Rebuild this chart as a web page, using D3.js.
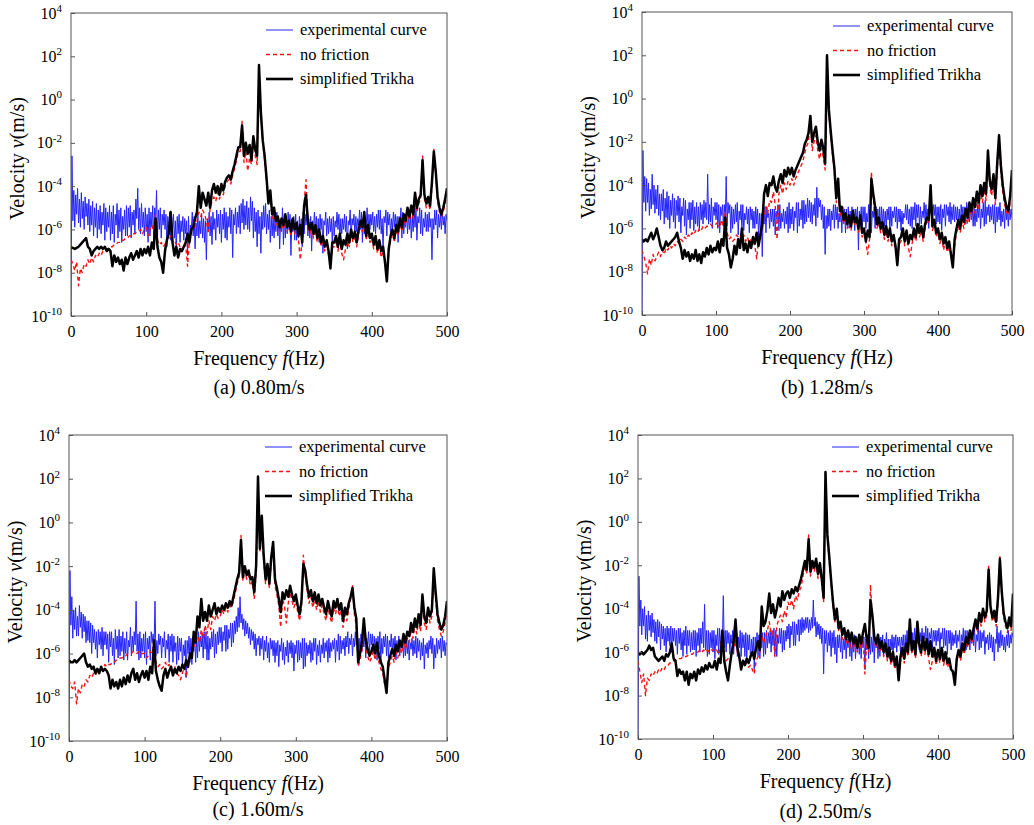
<!DOCTYPE html>
<html><head><meta charset="utf-8">
<script src="https://cdn.jsdelivr.net/npm/d3@7"></script>
<style>
body{margin:0;background:#fff}
svg{display:block}
text{font-family:'Liberation Serif','Times New Roman',serif;fill:#000}
</style>
</head><body>
<svg id="chart" width="1034" height="825"></svg>
<script>
// ---------- DATA (velocity values stored as log10 exponents) ----------
// experimental curves sampled every 1.25 Hz, model curves every 2.5 Hz, 0..500 Hz
const expStep = 1.25;
const modelStep = 2.5;
const expFrequencies = d3.range(0, 500 + expStep / 2, expStep);
const modelFrequencies = d3.range(0, 500 + modelStep / 2, modelStep);
const yTickExponents = [-10, -8, -6, -4, -2, 0, 2, 4];
const xTickValues = [0, 100, 200, 300, 400, 500];
const seriesNames = ["experimental curve", "no friction", "simplified Trikha"];
const captions = ["(a) 0.80m/s", "(b) 1.28m/s", "(c) 1.60m/s", "(d) 2.50m/s"];

// (a) 0.80 m/s
const expA = [
-10.0,-2.6,-5.6,-4.2,-5.9,-4.4,-5.3,-4.1,-5.7,-4.6,-5.9,-4.3,-5.5,-4.7,-6.0,-4.5,-5.4,-4.8,-5.8,-4.6,
-6.1,-4.9,-5.8,-4.7,-6.3,-5.0,-5.9,-4.8,-6.4,-5.1,-6.0,-4.9,-6.2,-5.2,-5.8,-4.8,-6.5,-5.0,-6.1,-5.2,
-5.9,-4.9,-6.5,-5.2,-6.2,-4.9,-6.6,-5.3,-5.8,-4.8,-6.4,-5.1,-6.1,-5.0,-6.6,-5.4,-6.0,-5.1,-6.3,-4.9,
-6.3,-5.0,-5.9,-4.9,-6.4,-5.2,-5.8,-5.1,-6.2,-4.6,-5.5,-4.1,-6.0,-5.0,-6.2,-4.8,-5.9,-5.2,-6.3,-5.0,
-6.1,-5.3,-6.6,-5.0,-6.3,-5.2,-5.9,-4.9,-6.5,-5.0,-5.6,-4.2,-6.4,-5.1,-6.0,-5.0,-6.4,-5.3,-5.8,-5.1,
-6.0,-5.3,-6.8,-5.4,-6.2,-5.2,-6.5,-5.5,-6.0,-5.3,-6.4,-5.6,-7.0,-5.4,-6.2,-5.3,-6.6,-5.6,-6.1,-5.4,
-6.5,-5.5,-6.2,-5.6,-7.2,-5.4,-6.7,-5.8,-6.0,-5.2,-6.3,-5.4,-6.9,-5.7,-6.3,-5.3,-6.4,-5.6,-6.2,-5.3,
-6.4,-5.5,-6.6,-5.6,-7.4,-5.5,-6.1,-5.2,-6.3,-5.4,-6.7,-5.2,-6.0,-5.5,-6.5,-5.1,-5.9,-5.3,-6.2,-5.1,
-6.6,-5.3,-6.0,-5.0,-6.4,-5.2,-6.5,-5.4,-5.9,-5.0,-6.2,-5.1,-7.3,-5.3,-5.8,-5.0,-6.2,-5.2,-5.9,-4.9,
-6.2,-4.8,-5.7,-4.6,-6.0,-4.9,-5.8,-4.7,-6.0,-5.0,-6.1,-4.5,-5.6,-4.7,-6.4,-5.0,-6.1,-5.2,-6.8,-5.1,
-6.2,-5.4,-7.1,-5.2,-6.0,-4.9,-5.9,-4.8,-6.2,-5.3,-6.0,-5.1,-6.6,-5.4,-6.3,-5.3,-6.4,-5.5,-6.1,-5.2,
-6.3,-5.5,-6.9,-5.6,-6.1,-5.0,-6.7,-5.3,-6.4,-5.4,-6.2,-5.2,-6.0,-5.3,-7.2,-5.5,-6.1,-5.4,-6.5,-5.3,
-6.5,-5.6,-6.4,-5.4,-6.1,-5.5,-6.8,-5.2,-6.2,-5.3,-5.8,-5.2,-6.3,-5.5,-6.4,-5.4,-7.0,-5.6,-5.9,-5.2,
-6.1,-5.4,-6.3,-5.5,-6.6,-5.3,-6.0,-5.5,-7.1,-5.6,-5.8,-5.2,-6.3,-5.5,-6.2,-5.4,-6.1,-5.5,-6.7,-5.4,
-6.3,-5.6,-5.9,-5.2,-6.0,-5.3,-6.5,-5.5,-6.2,-5.5,-6.0,-5.3,-6.1,-5.4,-6.9,-5.6,-5.8,-5.1,-6.4,-5.5,
-5.8,-5.3,-6.3,-5.4,-6.1,-5.5,-5.8,-5.1,-6.0,-5.2,-6.6,-5.5,-6.2,-5.6,-5.9,-5.0,-6.1,-5.3,-6.0,-5.3,
-5.8,-5.2,-6.1,-5.4,-6.2,-5.3,-5.9,-5.1,-6.0,-5.1,-6.2,-5.5,-6.9,-5.4,-5.7,-5.1,-6.3,-5.2,-5.8,-5.3,
-6.3,-5.5,-6.0,-5.2,-5.9,-5.3,-6.1,-5.4,-6.6,-5.4,-5.8,-5.0,-6.4,-5.2,-6.2,-5.6,-5.9,-5.1,-6.2,-5.3,
-6.0,-5.3,-6.4,-5.4,-6.1,-5.0,-5.9,-5.0,-6.5,-5.4,-5.7,-5.0,-6.2,-5.1,-6.3,-5.5,-5.9,-5.2,-6.1,-5.3,
-6.1,-5.2,-5.9,-5.5,-7.4,-5.5,-6.0,-5.1,-5.8,-5.1,-6.4,-5.3,-5.9,-5.3,-6.0,-5.2,-5.8,-5.4,-6.2,-5.3,
-5.6];
const noFrictionA = [
-7.4,-7.6,-7.9,-7.5,-8.6,-7.8,-8.0,-7.6,-7.7,-7.4,
-7.6,-7.3,-7.5,-7.2,-7.3,-7.1,-7.2,-7.0,-7.0,-6.9,
-6.9,-6.8,-6.8,-6.7,-6.7,-6.6,-6.6,-6.5,-6.5,-6.4,
-6.4,-6.3,-6.3,-6.2,-6.2,-6.1,-6.1,-6.0,-6.2,-6.0,
-5.9,-6.3,-6.0,-5.8,-6.1,-5.3,-6.5,-6.7,-6.6,-6.8,
-6.7,-6.4,-6.5,-6.3,-6.6,-6.5,-6.7,-6.6,-6.8,-7.0,
-6.8,-6.7,-7.7,-6.5,-6.1,-6.0,-5.8,-5.6,-5.2,-5.4,
-5.1,-5.3,-5.6,-6.1,-5.0,-4.7,-4.5,-4.7,-4.3,-4.6,
-4.2,-4.4,-4.0,-3.8,-3.7,-3.9,-3.5,-3.2,-2.8,-2.4,
-2.4,-1.0,-2.9,-2.4,-3.3,-2.7,-3.0,-1.9,-2.6,-3.0,
1.5,-0.7,-2.0,-2.8,-3.8,-4.6,-4.4,-5.5,-5.2,-5.8,
-5.6,-6.1,-5.7,-6.0,-5.5,-6.1,-5.8,-6.3,-5.7,-6.2,
-5.9,-6.5,-7.4,-6.4,-4.8,-3.7,-5.7,-6.2,-5.9,-6.4,
-6.0,-6.6,-6.2,-6.8,-6.5,-7.0,-6.6,-7.2,-7.6,-6.8,
-6.8,-6.5,-7.0,-6.4,-7.1,-7.4,-6.9,-6.4,-6.8,-6.2,
-6.6,-6.3,-6.8,-6.2,-5.8,-6.1,-5.4,-6.5,-6.0,-6.6,
-6.4,-6.9,-6.5,-7.1,-6.7,-7.3,-7.0,-7.4,-8.0,-7.1,
-6.5,-6.2,-6.6,-6.0,-6.3,-5.7,-6.1,-5.5,-5.8,-5.2,
-5.6,-5.1,-5.5,-4.5,-5.2,-4.8,-4.6,-2.6,-4.6,-5.0,
-4.7,-5.1,-4.0,-2.3,-3.4,-4.7,-5.2,-5.4,-5.2,-4.8,-4.3];
const trikhaA = [
-6.85,-6.85,-6.9,-6.85,-6.8,-6.7,-6.6,-6.5,-6.4,-6.8,
-6.9,-7.2,-7.0,-6.9,-6.8,-6.9,-6.8,-6.9,-6.8,-7.0,
-6.9,-7.0,-7.7,-7.2,-7.5,-7.3,-7.6,-7.4,-7.9,-7.3,
-7.6,-7.3,-7.1,-7.4,-7.2,-7.0,-7.3,-6.9,-7.2,-6.9,
-7.1,-6.8,-7.2,-6.6,-6.9,-5.5,-6.8,-7.3,-7.5,-8.0,
-7.0,-6.5,-6.2,-5.2,-6.6,-7.2,-6.8,-7.3,-6.9,-7.0,
-6.8,-6.6,-6.2,-6.6,-6.0,-5.9,-5.5,-5.2,-4.0,-5.0,
-4.3,-4.6,-4.9,-4.3,-5.0,-4.2,-3.9,-4.3,-4.0,-4.4,
-3.9,-4.2,-3.8,-3.6,-3.5,-3.7,-3.3,-3.0,-2.6,-2.2,
-2.2,-1.2,-2.6,-2.0,-2.5,-2.1,-2.8,-1.7,-2.3,-2.6,
1.6,-0.6,-1.9,-2.6,-3.6,-4.8,-4.2,-5.3,-5.0,-5.6,
-5.4,-5.9,-5.5,-5.8,-5.3,-5.9,-5.6,-6.1,-5.5,-6.0,
-5.7,-6.3,-5.8,-6.6,-4.9,-4.4,-5.6,-6.0,-5.7,-6.2,
-5.8,-6.4,-6.0,-6.6,-6.3,-6.8,-6.5,-7.0,-7.8,-6.6,
-6.6,-6.3,-6.8,-6.2,-6.9,-6.5,-6.7,-6.2,-6.6,-6.0,
-6.4,-6.1,-6.6,-6.0,-5.6,-5.9,-5.2,-6.3,-5.8,-6.4,
-6.2,-6.7,-6.3,-6.9,-6.5,-7.0,-6.8,-7.5,-8.4,-6.9,
-6.3,-6.0,-6.4,-5.8,-6.1,-5.5,-5.9,-5.3,-5.6,-5.0,
-5.4,-4.9,-5.3,-4.3,-5.0,-4.6,-4.4,-2.8,-4.4,-4.8,
-4.5,-4.9,-3.8,-2.4,-3.3,-4.5,-5.0,-5.3,-5.0,-4.6,-4.1];

// (b) 1.28 m/s
const expB = [
-10.0,-2.4,-4.8,-3.6,-5.2,-3.7,-4.8,-3.9,-5.4,-4.2,-5.1,-3.5,-4.9,-4.0,-5.3,-4.2,-5.1,-4.0,-5.4,-4.4,
-5.6,-4.4,-5.2,-4.2,-5.8,-4.6,-5.5,-4.3,-5.6,-4.5,-6.0,-4.7,-5.4,-4.4,-5.7,-4.6,-6.0,-4.7,-5.4,-4.5,
-5.7,-4.6,-6.2,-5.0,-5.4,-4.6,-5.9,-4.7,-6.3,-5.1,-5.6,-4.8,-6.0,-4.8,-5.6,-4.7,-6.1,-5.0,-5.8,-4.8,
-5.9,-5.0,-6.1,-4.8,-5.6,-4.9,-5.8,-4.7,-5.5,-4.8,-5.6,-3.5,-5.8,-4.9,-5.7,-4.6,-6.0,-5.0,-5.4,-4.8,
-5.6,-4.8,-6.0,-4.9,-6.2,-5.0,-5.4,-4.9,-5.9,-4.9,-5.7,-3.6,-5.9,-4.8,-5.3,-4.9,-6.2,-5.0,-6.0,-5.1,
-5.8,-4.9,-5.7,-4.8,-6.3,-5.2,-5.6,-4.9,-6.1,-4.9,-6.1,-5.3,-5.6,-5.0,-5.8,-5.1,-6.2,-5.0,-5.6,-5.1,
-6.0,-5.2,-6.0,-5.0,-5.8,-5.1,-6.4,-5.3,-6.2,-5.3,-7.3,-5.2,-5.8,-5.0,-6.2,-5.0,-5.5,-5.3,-6.0,-5.1,
-5.7,-5.1,-5.9,-5.1,-6.3,-5.2,-5.6,-4.9,-6.1,-4.9,-6.0,-5.3,-5.7,-5.1,-6.0,-5.2,-5.8,-5.0,-6.2,-4.8,
-6.0,-5.1,-5.8,-5.0,-6.1,-5.2,-5.5,-4.8,-6.2,-4.8,-5.9,-5.1,-5.6,-4.7,-6.0,-4.7,-5.8,-4.9,-5.7,-4.6,
-5.5,-4.7,-5.7,-4.8,-5.8,-4.9,-5.4,-4.6,-5.9,-4.1,-5.5,-4.6,-5.0,-4.7,-5.6,-4.9,-6.0,-5.0,-7.2,-5.4,
-6.0,-5.1,-5.9,-5.1,-6.1,-5.2,-5.6,-4.9,-6.0,-4.9,-5.6,-5.0,-6.0,-5.3,-5.7,-5.0,-6.2,-5.0,-5.8,-5.1,
-6.2,-5.1,-5.9,-5.0,-6.0,-5.2,-5.8,-5.0,-5.6,-5.1,-6.1,-5.1,-5.6,-5.0,-7.0,-5.2,-5.7,-5.0,-6.0,-5.0,
-5.7,-5.0,-6.0,-5.3,-5.7,-4.9,-6.1,-5.1,-6.2,-5.2,-5.5,-5.0,-6.0,-5.0,-5.6,-5.1,-5.9,-5.0,-6.1,-5.0,
-5.8,-5.1,-5.9,-5.2,-6.0,-5.1,-5.6,-5.0,-6.1,-5.0,-5.9,-5.2,-5.5,-5.0,-5.7,-5.0,-6.0,-5.1,-5.7,-5.1,
-6.1,-5.2,-5.8,-5.3,-5.5,-4.9,-5.6,-4.9,-5.8,-5.1,-5.9,-5.0,-6.0,-5.0,-5.6,-4.8,-5.9,-4.9,-5.5,-4.9,
-5.9,-5.0,-5.8,-5.2,-5.5,-4.8,-5.6,-4.9,-5.7,-5.1,-6.0,-5.0,-5.3,-4.9,-5.9,-4.9,-5.4,-4.9,-5.8,-5.0,
-5.7,-5.0,-5.8,-4.9,-6.1,-5.1,-5.5,-4.9,-5.9,-4.9,-5.4,-5.0,-5.7,-4.8,-5.8,-5.0,-5.6,-4.9,-5.7,-5.0,
-5.6,-5.0,-5.8,-5.1,-6.0,-4.9,-5.4,-5.0,-5.7,-5.0,-5.8,-4.8,-5.3,-5.0,-5.7,-5.1,-5.6,-4.9,-5.9,-5.0,
-5.9,-5.1,-5.7,-4.9,-5.5,-4.8,-6.0,-5.1,-5.5,-4.8,-5.9,-4.7,-5.8,-5.0,-5.4,-4.9,-5.7,-5.0,-5.6,-4.9,
-5.8,-4.9,-6.2,-5.0,-5.7,-5.0,-5.6,-4.8,-5.9,-5.2,-5.7,-5.1,-6.0,-5.0,-5.6,-5.1,-5.9,-5.0,-5.6,-5.1,
-5.5];
const noFrictionB = [
-7.0,-7.3,-7.6,-8.1,-7.4,-7.7,-7.2,-7.5,-7.3,-7.1,
-7.3,-7.0,-7.2,-6.9,-7.0,-6.8,-6.9,-6.7,-6.8,-6.6,
-6.7,-6.5,-6.6,-6.4,-6.5,-6.3,-6.4,-6.2,-6.3,-6.1,
-6.2,-6.0,-6.1,-5.9,-6.0,-5.9,-5.9,-5.8,-5.9,-5.8,
-5.8,-5.7,-6.0,-5.6,-5.9,-5.2,-6.2,-6.5,-6.4,-6.6,
-6.5,-6.3,-6.4,-6.6,-6.5,-6.3,-6.6,-6.4,-6.7,-6.5,
-6.6,-6.8,-7.4,-6.5,-6.2,-6.0,-5.4,-5.0,-5.3,-4.7,
-4.8,-4.3,-4.9,-6.5,-4.4,-4.0,-4.4,-3.9,-4.2,-3.8,
-4.0,-3.7,-4.0,-3.7,-3.5,-3.3,-3.1,-2.9,-2.5,-2.2,
-2.0,-0.7,-2.4,-2.0,-1.7,-2.4,-2.8,-2.3,-2.7,-3.3,
1.9,-0.7,-1.7,-2.6,-3.4,-4.8,-4.0,-5.4,-5.2,-5.8,
-5.5,-6.0,-5.6,-6.1,-5.4,-5.9,-5.7,-6.2,-5.6,-6.4,
-6.2,-6.6,-7.2,-6.5,-3.4,-4.6,-5.2,-6.0,-5.7,-6.2,
-5.9,-6.5,-6.1,-6.6,-6.2,-6.8,-6.5,-7.0,-7.5,-6.7,
-6.6,-6.2,-6.8,-6.3,-6.9,-7.3,-6.7,-6.2,-6.6,-6.0,
-6.4,-6.1,-6.6,-6.0,-5.7,-5.8,-4.3,-6.1,-5.8,-6.4,
-6.2,-6.7,-6.4,-7.0,-6.6,-7.1,-6.9,-7.1,-7.6,-6.8,
-6.2,-5.9,-6.2,-5.7,-6.0,-5.4,-5.8,-5.1,-5.5,-4.9,
-5.3,-4.6,-5.1,-4.3,-4.8,-4.2,-4.7,-2.6,-4.1,-4.5,
-3.8,-4.9,-3.3,-1.9,-3.4,-4.3,-4.9,-5.2,-5.4,-4.8,-3.6];
const trikhaB = [
-6.5,-6.6,-6.5,-6.6,-6.4,-6.2,-6.5,-6.3,-6.0,-6.4,
-6.8,-7.0,-6.9,-6.6,-6.8,-6.7,-6.6,-6.5,-6.4,-6.2,
-6.6,-6.9,-7.4,-7.0,-7.3,-7.1,-7.5,-7.2,-7.4,-7.0,
-7.5,-7.2,-7.6,-7.1,-7.3,-6.9,-7.2,-6.8,-7.1,-6.9,
-7.0,-6.6,-7.1,-6.5,-6.8,-5.5,-6.9,-7.2,-7.8,-7.4,
-6.8,-7.2,-6.5,-6.9,-6.0,-7.0,-6.7,-7.1,-6.6,-6.9,
-6.4,-6.7,-6.2,-6.8,-6.3,-5.8,-4.4,-4.0,-4.5,-3.9,
-4.0,-3.6,-4.1,-4.3,-3.8,-3.5,-3.9,-3.3,-3.6,-3.2,
-3.5,-3.2,-3.6,-3.3,-3.1,-2.9,-2.7,-2.5,-2.1,-1.9,
-1.6,-0.8,-2.0,-1.6,-1.3,-2.0,-2.4,-1.9,-2.3,-3.0,
2.0,-0.5,-1.5,-2.4,-3.2,-4.6,-3.7,-5.2,-5.0,-5.6,
-5.3,-5.8,-5.4,-5.9,-5.2,-5.7,-5.5,-6.0,-5.4,-6.2,
-6.0,-6.6,-6.1,-6.4,-3.7,-4.4,-5.0,-5.8,-5.5,-6.0,
-5.7,-6.3,-5.9,-6.4,-6.0,-6.6,-6.3,-6.8,-7.7,-6.5,
-6.4,-6.0,-6.6,-6.1,-6.7,-6.3,-6.5,-6.0,-6.4,-5.8,
-6.2,-5.9,-6.4,-5.8,-5.5,-5.6,-4.0,-5.9,-5.6,-6.2,
-6.0,-6.5,-6.2,-6.7,-6.4,-6.9,-6.6,-7.2,-7.8,-6.5,
-6.0,-5.6,-6.0,-5.4,-5.7,-5.1,-5.5,-4.8,-5.2,-4.6,
-5.0,-4.3,-4.8,-4.0,-4.5,-3.9,-4.4,-2.4,-3.8,-4.2,
-3.5,-4.6,-3.0,-1.7,-3.1,-4.0,-4.6,-5.0,-5.2,-4.5,-3.3];

// (c) 1.60 m/s
const expC = [
-10.0,-2.2,-4.7,-3.4,-5.3,-4.0,-4.9,-3.9,-5.2,-4.3,-5.2,-3.8,-4.8,-4.1,-5.3,-4.2,-5.0,-4.3,-5.5,-4.5,
-5.4,-4.5,-5.5,-4.6,-6.0,-4.7,-5.5,-4.9,-5.8,-5.0,-6.2,-4.9,-5.6,-5.0,-5.8,-4.8,-6.1,-5.0,-5.6,-5.0,
-5.8,-5.1,-6.4,-5.0,-5.7,-5.0,-6.1,-5.3,-6.5,-4.9,-5.8,-5.2,-6.2,-4.9,-6.1,-5.2,-5.9,-5.0,-6.3,-5.3,
-6.0,-5.0,-6.3,-5.4,-5.7,-4.8,-6.1,-5.2,-5.9,-5.0,-5.6,-3.6,-5.9,-5.1,-6.3,-5.0,-6.2,-5.3,-5.9,-5.1,
-6.2,-5.0,-6.5,-5.3,-5.8,-5.2,-6.3,-5.0,-5.5,-5.1,-5.7,-3.6,-6.1,-5.4,-6.0,-5.1,-5.6,-5.2,-6.2,-5.3,
-5.7,-5.0,-6.2,-5.4,-5.8,-5.1,-6.4,-5.2,-5.9,-5.1,-6.4,-5.2,-5.9,-5.5,-6.5,-5.2,-6.3,-5.3,-5.9,-5.3,
-6.6,-5.6,-6.1,-5.4,-7.1,-5.4,-6.0,-5.2,-6.4,-5.3,-6.5,-5.3,-5.9,-5.2,-6.4,-5.3,-6.2,-5.0,-5.9,-5.2,
-5.7,-5.1,-6.2,-5.0,-5.8,-5.0,-6.3,-5.2,-6.3,-5.3,-5.8,-5.0,-5.7,-4.9,-6.2,-5.1,-6.0,-5.0,-5.6,-4.8,
-5.5,-4.8,-5.9,-5.0,-5.4,-4.7,-5.9,-4.7,-5.8,-4.9,-5.3,-4.6,-5.7,-4.6,-5.5,-4.5,-5.1,-4.3,-5.0,-3.9,
-4.8,-3.4,-4.6,-4.2,-4.9,-4.4,-5.2,-4.5,-5.1,-4.6,-5.3,-4.8,-5.6,-4.9,-5.4,-5.0,-5.8,-5.1,-6.1,-5.3,
-5.6,-5.2,-6.1,-5.3,-5.8,-5.2,-6.3,-5.4,-5.9,-5.2,-6.2,-5.5,-6.4,-5.3,-5.8,-5.4,-6.1,-5.4,-6.4,-5.5,
-6.1,-5.4,-6.6,-5.6,-5.9,-5.3,-6.3,-5.5,-6.5,-5.7,-6.1,-5.4,-6.4,-5.5,-6.0,-5.4,-6.2,-5.5,-6.8,-5.6,
-6.0,-5.4,-6.4,-5.4,-6.3,-5.5,-6.2,-5.3,-6.7,-5.3,-6.6,-5.5,-6.1,-5.6,-6.0,-5.4,-6.4,-5.5,-6.3,-5.3,
-5.9,-5.3,-6.5,-5.6,-6.1,-5.4,-6.4,-5.6,-6.0,-5.3,-6.2,-5.5,-5.9,-5.4,-6.4,-5.3,-6.2,-5.5,-5.9,-5.4,
-5.8,-5.3,-6.4,-5.4,-5.9,-5.1,-6.3,-5.2,-6.0,-5.4,-5.8,-5.3,-6.1,-5.2,-5.7,-5.0,-6.0,-5.3,-5.6,-5.1,
-6.1,-5.3,-5.7,-5.0,-5.6,-5.0,-6.0,-5.3,-6.1,-5.1,-5.9,-5.2,-5.7,-5.0,-6.2,-5.3,-5.6,-5.0,-6.0,-5.1,
-5.6,-5.1,-6.0,-5.2,-5.9,-5.3,-6.3,-5.2,-5.8,-5.0,-6.4,-5.3,-6.0,-5.2,-5.7,-5.1,-6.1,-5.2,-6.2,-5.4,
-5.7,-5.1,-6.0,-5.3,-5.9,-5.2,-6.3,-5.4,-5.8,-5.2,-6.1,-5.5,-5.7,-5.3,-6.2,-5.4,-6.1,-5.3,-6.0,-5.4,
-6.3,-5.5,-5.8,-5.3,-6.1,-5.4,-6.0,-5.2,-6.2,-5.3,-5.9,-5.4,-6.3,-5.5,-6.1,-5.3,-6.7,-5.6,-6.0,-5.5,
-6.2,-5.4,-5.8,-5.2,-6.0,-5.3,-6.7,-5.6,-6.2,-5.3,-6.0,-5.4,-5.8,-5.3,-6.2,-5.2,-5.9,-5.4,-6.1,-5.5,
-5.6];
const noFrictionC = [
-7.2,-7.5,-7.6,-7.3,-8.3,-7.6,-7.8,-7.4,-7.5,-7.2,
-7.3,-7.0,-7.1,-6.9,-7.0,-6.8,-6.8,-6.7,-6.7,-6.5,
-6.6,-6.5,-6.5,-6.4,-6.4,-6.3,-6.3,-6.2,-6.2,-6.1,
-6.1,-6.0,-6.0,-6.0,-5.9,-5.9,-6.0,-5.9,-6.0,-6.0,
-6.0,-6.2,-6.1,-5.9,-6.0,-5.3,-6.4,-6.6,-6.5,-6.7,
-6.6,-6.4,-6.6,-6.5,-6.7,-6.8,-6.6,-6.9,-7.0,-7.2,
-6.9,-6.6,-7.1,-6.5,-6.2,-5.9,-5.7,-5.4,-5.2,-5.5,
-4.9,-5.3,-4.7,-5.1,-4.5,-4.9,-4.3,-4.5,-4.2,-4.4,
-4.3,-4.0,-4.2,-3.9,-4.1,-3.8,-3.9,-3.6,-3.2,-2.8,
-2.5,-0.6,-2.7,-2.2,-2.6,-2.4,-2.9,-2.7,-3.5,-2.3,
2.0,-1.3,0.2,-1.7,-2.8,-2.1,-3.0,-1.8,-1.0,-2.9,
-3.3,-3.8,-4.8,-3.5,-3.8,-4.6,-3.7,-3.2,-3.6,-3.9,
-3.6,-4.1,-4.5,-3.9,-1.5,-2.4,-3.1,-3.7,-3.4,-3.9,
-3.5,-4.0,-3.6,-4.1,-3.8,-4.2,-4.5,-3.9,-4.3,-4.6,
-3.9,-4.2,-3.8,-4.3,-4.0,-4.8,-4.2,-4.5,-4.0,-3.5,
-2.9,-4.2,-4.7,-6.6,-6.3,-5.8,-4.6,-5.7,-6.1,-6.4,
-6.2,-5.9,-6.3,-5.8,-6.4,-6.7,-6.9,-7.4,-7.7,-6.7,
-6.4,-6.1,-6.4,-5.9,-6.2,-5.7,-6.0,-5.4,-5.8,-5.3,
-5.5,-4.9,-5.3,-4.7,-5.1,-4.5,-5.0,-3.5,-4.6,-4.9,
-4.2,-4.6,-4.3,-2.2,-3.5,-4.5,-4.9,-5.2,-5.0,-4.6,-3.9];
const trikhaC = [
-6.3,-6.4,-6.4,-6.3,-6.4,-6.3,-6.2,-6.1,-6.0,-6.4,
-6.6,-6.5,-6.7,-6.6,-6.9,-6.7,-6.9,-6.6,-6.8,-6.7,
-6.8,-7.0,-7.6,-7.2,-7.5,-7.3,-7.6,-7.2,-7.5,-7.1,
-7.4,-7.0,-7.3,-6.9,-6.7,-7.2,-6.9,-7.3,-7.0,-6.8,
-7.1,-6.8,-7.2,-6.6,-6.9,-5.4,-6.8,-7.2,-7.5,-7.7,
-7.0,-6.7,-7.1,-6.8,-6.6,-7.0,-6.7,-6.9,-6.6,-6.8,
-6.5,-6.7,-6.3,-6.6,-6.0,-6.2,-5.0,-5.5,-4.3,-4.8,
-3.5,-4.5,-4.1,-4.5,-3.8,-4.3,-4.0,-3.7,-4.2,-3.9,
-4.1,-3.8,-4.0,-3.7,-3.9,-3.6,-3.8,-3.4,-3.0,-2.6,
-2.3,-0.8,-2.5,-2.0,-2.4,-2.2,-2.6,-2.5,-3.2,-2.0,
2.1,-1.2,0.3,-1.5,-2.6,-1.9,-2.8,-1.6,-0.9,-2.6,
-3.0,-3.5,-4.1,-3.2,-3.5,-3.1,-3.4,-2.9,-3.3,-3.6,
-3.3,-3.8,-4.2,-3.6,-1.9,-2.2,-2.9,-3.4,-3.1,-3.6,
-3.2,-3.7,-3.3,-3.8,-3.5,-3.9,-4.2,-3.6,-4.0,-4.3,
-3.6,-3.9,-3.5,-4.0,-3.7,-4.5,-3.9,-4.2,-3.7,-3.4,
-3.0,-3.9,-4.4,-6.4,-6.0,-5.5,-4.4,-5.4,-5.8,-6.1,
-5.9,-5.6,-6.0,-5.5,-6.1,-6.4,-6.6,-7.2,-7.8,-6.4,
-6.1,-5.8,-6.1,-5.6,-5.9,-5.4,-5.7,-5.1,-5.5,-5.0,
-5.2,-4.6,-5.0,-4.4,-4.8,-4.2,-4.7,-3.3,-4.3,-4.6,
-3.9,-4.3,-4.0,-2.1,-3.2,-4.2,-4.6,-4.9,-4.7,-4.3,-3.6];

// (d) 2.50 m/s
const expD = [
-10.0,-2.5,-4.8,-3.6,-5.2,-4.0,-4.8,-3.9,-5.4,-4.3,-5.5,-4.1,-5.0,-4.3,-5.3,-4.2,-5.1,-4.5,-5.5,-4.6,
-5.6,-4.5,-5.3,-4.6,-5.9,-4.7,-5.4,-4.8,-5.7,-4.9,-6.0,-4.8,-5.5,-4.9,-5.7,-4.8,-6.0,-4.9,-5.5,-4.9,
-5.7,-5.0,-6.1,-4.9,-5.6,-4.9,-5.9,-5.1,-6.2,-5.0,-5.7,-4.8,-6.1,-5.0,-5.7,-5.0,-6.0,-5.1,-5.9,-5.0,
-5.9,-5.0,-6.2,-5.1,-5.7,-4.9,-6.0,-4.9,-5.6,-4.6,-5.8,-3.8,-5.9,-5.0,-6.2,-5.0,-6.1,-5.1,-5.8,-5.0,
-6.0,-5.0,-6.3,-5.2,-5.7,-4.9,-6.1,-4.9,-5.9,-5.0,-5.6,-3.4,-5.8,-5.0,-6.0,-5.0,-5.6,-5.1,-6.1,-5.2,
-5.6,-5.0,-6.1,-5.2,-5.7,-4.9,-6.2,-5.3,-5.8,-5.0,-6.2,-5.1,-5.8,-5.2,-6.2,-5.1,-6.3,-5.2,-5.9,-5.2,
-6.4,-5.4,-6.0,-5.3,-6.8,-5.3,-5.9,-5.1,-6.2,-5.2,-6.3,-5.2,-5.8,-5.1,-6.2,-5.1,-6.1,-5.0,-5.8,-5.1,
-5.6,-5.0,-6.0,-5.0,-5.7,-4.9,-6.1,-5.0,-6.2,-5.2,-5.6,-4.9,-5.6,-4.9,-6.0,-5.0,-5.9,-5.0,-5.5,-4.8,
-5.4,-4.7,-5.8,-4.8,-5.2,-4.6,-5.7,-4.6,-5.7,-4.7,-5.2,-4.5,-5.5,-4.5,-5.2,-4.4,-5.1,-4.5,-5.0,-4.4,
-4.9,-4.4,-5.1,-4.5,-5.0,-4.4,-4.9,-3.6,-4.8,-4.4,-5.3,-4.6,-5.2,-4.7,-5.4,-4.8,-5.6,-4.9,-7.0,-5.0,
-5.6,-5.0,-6.0,-5.1,-5.7,-5.0,-6.2,-5.1,-5.8,-5.0,-6.1,-5.3,-6.5,-5.2,-5.8,-5.2,-6.0,-5.2,-6.3,-5.4,
-5.9,-5.2,-6.3,-5.4,-5.8,-5.1,-6.2,-5.4,-6.4,-5.5,-6.0,-5.2,-6.3,-5.4,-5.9,-5.3,-6.1,-5.3,-6.3,-5.4,
-5.8,-5.3,-6.8,-5.4,-5.9,-5.2,-6.3,-5.2,-6.1,-5.3,-6.0,-5.1,-6.5,-5.3,-5.8,-5.3,-6.3,-5.4,-6.2,-5.3,
-5.9,-5.2,-6.2,-5.4,-5.7,-5.1,-6.1,-5.4,-6.3,-5.4,-5.9,-5.2,-6.2,-5.3,-5.8,-5.2,-6.0,-5.3,-5.7,-5.3,
-6.0,-5.3,-5.7,-5.2,-6.2,-5.2,-5.8,-5.0,-6.1,-5.2,-5.6,-5.1,-5.9,-5.1,-5.7,-4.9,-5.9,-5.1,-5.6,-5.0,
-5.9,-5.1,-5.5,-4.9,-5.8,-5.1,-5.4,-4.8,-5.9,-4.9,-5.7,-5.1,-5.4,-4.9,-5.8,-5.0,-5.5,-5.0,-5.7,-5.0,
-5.5,-4.9,-6.0,-5.1,-5.4,-4.9,-5.8,-4.9,-5.7,-5.0,-6.1,-5.0,-5.6,-5.0,-5.9,-5.1,-5.7,-5.2,-5.6,-5.0,
-5.8,-5.2,-5.5,-5.0,-6.2,-5.2,-5.5,-4.9,-6.0,-5.0,-5.9,-5.0,-5.4,-5.1,-5.9,-5.0,-5.6,-5.1,-5.7,-4.9,
-6.0,-5.2,-5.5,-4.8,-5.9,-5.0,-5.8,-5.1,-5.5,-5.0,-6.1,-5.3,-5.6,-5.2,-5.9,-5.1,-5.8,-5.2,-6.0,-5.3,
-6.4,-5.4,-5.6,-4.8,-6.0,-5.1,-5.8,-5.0,-5.7,-5.2,-5.9,-5.3,-6.0,-5.2,-5.7,-5.0,-5.8,-5.2,-5.6,-5.1,
-5.3];
const noFrictionD = [
-6.4,-6.9,-7.4,-7.0,-8.0,-7.2,-7.3,-7.0,-7.1,-6.9,
-7.0,-6.8,-6.9,-6.7,-6.8,-6.6,-6.6,-6.5,-6.5,-6.4,
-6.4,-6.3,-6.3,-6.3,-6.2,-6.2,-6.2,-6.1,-6.1,-6.1,
-6.0,-6.0,-6.0,-5.9,-6.0,-5.9,-6.0,-5.9,-6.0,-5.9,
-5.9,-6.0,-5.9,-6.1,-5.8,-5.1,-6.2,-6.4,-6.3,-6.4,
-6.1,-5.8,-5.5,-6.0,-6.3,-6.5,-6.4,-6.6,-6.5,-6.7,
-6.6,-6.8,-7.0,-6.4,-6.2,-6.0,-5.2,-5.6,-5.3,-5.0,
-4.6,-5.2,-5.0,-6.2,-4.8,-4.5,-4.3,-4.6,-4.1,-4.4,
-3.7,-3.9,-3.6,-4.0,-3.4,-3.6,-3.2,-3.0,-2.5,-2.0,
-2.4,-0.6,-2.5,-2.0,-2.3,-1.9,-2.6,-2.1,-2.8,-3.7,
2.2,-0.6,-1.8,-2.8,-3.9,-4.6,-4.2,-5.0,-4.7,-5.4,
-5.1,-5.6,-5.2,-5.8,-5.3,-5.9,-5.5,-6.0,-5.4,-5.8,
-5.3,-7.0,-5.6,-6.0,-2.9,-4.5,-5.5,-5.8,-5.4,-6.0,
-5.7,-6.2,-5.8,-6.4,-6.0,-6.6,-6.2,-6.8,-6.4,-7.1,
-6.4,-6.0,-6.5,-5.8,-6.2,-4.7,-6.1,-5.7,-6.3,-4.8,
-5.8,-6.2,-5.5,-6.1,-5.6,-6.3,-6.8,-6.4,-6.0,-6.6,
-6.1,-6.5,-6.0,-6.6,-6.2,-6.7,-6.5,-6.9,-7.0,-7.3,
-6.4,-6.1,-6.4,-5.8,-6.1,-5.5,-5.8,-5.2,-5.6,-5.1,
-4.7,-5.1,-4.4,-4.8,-4.2,-4.6,-4.3,-2.0,-4.1,-4.6,
-4.3,-4.8,-3.7,-1.6,-3.4,-4.4,-4.8,-5.1,-4.6,-5.0,-3.5];
const trikhaD = [
-6.0,-6.1,-6.0,-6.1,-6.0,-5.9,-5.7,-5.9,-5.8,-6.2,
-6.3,-6.4,-6.3,-6.2,-6.4,-6.1,-6.2,-6.0,-5.6,-6.3,
-6.4,-7.1,-6.8,-7.0,-6.9,-7.3,-6.9,-7.5,-7.0,-7.2,
-6.9,-7.3,-6.8,-7.0,-6.7,-6.9,-6.6,-6.8,-6.5,-6.7,
-6.7,-6.4,-6.8,-6.3,-6.5,-5.0,-6.4,-6.9,-7.3,-6.6,
-6.0,-5.5,-4.5,-5.8,-6.2,-6.8,-6.4,-6.6,-6.3,-6.5,
-6.2,-6.0,-6.3,-5.8,-5.5,-5.9,-3.9,-4.8,-4.6,-4.1,
-3.3,-4.2,-3.8,-4.4,-4.0,-3.5,-3.9,-3.2,-3.6,-3.3,
-3.2,-3.5,-3.1,-3.3,-3.0,-3.2,-2.9,-2.6,-2.2,-1.8,
-2.2,-0.8,-2.3,-1.8,-2.1,-1.7,-2.4,-1.9,-2.6,-3.5,
2.3,-0.6,-1.6,-2.7,-3.7,-4.5,-4.0,-4.9,-4.6,-5.2,
-4.9,-5.4,-5.0,-5.5,-5.1,-5.6,-5.3,-5.8,-5.2,-5.6,
-5.1,-4.7,-5.4,-5.8,-3.6,-4.3,-5.3,-5.6,-5.2,-5.8,
-5.5,-6.0,-5.6,-6.2,-5.8,-6.4,-6.0,-6.6,-6.2,-7.3,
-6.2,-5.8,-6.3,-5.6,-6.0,-4.5,-5.9,-5.5,-6.1,-4.6,
-5.6,-6.0,-5.3,-5.9,-5.4,-6.1,-5.5,-6.2,-5.8,-6.4,
-5.9,-6.3,-5.8,-6.4,-6.0,-6.5,-6.3,-6.8,-6.9,-7.5,
-6.3,-5.9,-6.2,-5.6,-5.9,-5.3,-5.6,-5.0,-5.4,-4.9,
-4.5,-4.9,-4.2,-4.6,-4.0,-4.4,-4.1,-2.2,-3.9,-4.4,
-4.1,-4.6,-3.5,-1.7,-3.2,-4.2,-4.6,-4.9,-4.4,-4.8,-3.3];

const panelSeries = [
  [expA, noFrictionA, trikhaA],
  [expB, noFrictionB, trikhaB],
  [expC, noFrictionC, trikhaC],
  [expD, noFrictionD, trikhaD]
];
const seriesFrequencies = [expFrequencies, modelFrequencies, modelFrequencies];

// ---------- LAYOUT / STYLE ----------
const layout = [
  {x0: 71,  x1: 447,  y0: 13,  y1: 316, legX: 266, legY: 30,  capDy: 78},
  {x0: 642, x1: 1012, y0: 12,  y1: 315, legX: 833, legY: 26,  capDy: 79},
  {x0: 69,  x1: 447,  y0: 435, y1: 741, legX: 265, legY: 447, capDy: 75},
  {x0: 638, x1: 1013, y0: 435, y1: 739, legX: 832, legY: 447, capDy: 79}
];
const styles = [
  {stroke: "#2323ff", width: 1,   legendWidth: 1,   dash: null},
  {stroke: "#ff1010", width: 1.4, legendWidth: 1.4, dash: "4,3"},
  {stroke: "#000000", width: 2.5, legendWidth: 2.6, dash: null}
];
const drawOrder = [0, 1, 2];
const serif = "'Liberation Serif', 'Times New Roman', serif";

const svg = d3.select("#chart");

layout.forEach((L, p) => {
  const g = svg.append("g");
  const x = d3.scaleLinear().domain([0, 500]).range([L.x0, L.x1]);
  const y = d3.scaleLog().domain([1e-10, 1e4]).range([L.y1, L.y0]);

  const clipId = "clip" + p;
  g.append("clipPath").attr("id", clipId).append("rect")
    .attr("x", L.x0).attr("y", L.y0).attr("width", L.x1 - L.x0).attr("height", L.y1 - L.y0);

  const plot = g.append("g").attr("clip-path", `url(#${clipId})`);
  drawOrder.forEach(s => {
    const st = styles[s];
    const fr = seriesFrequencies[s];
    const line = d3.line()
      .defined((d, i) => fr[i] !== undefined)
      .x((d, i) => x(fr[i]))
      .y(d => y(Math.pow(10, d)));
    plot.append("path")
      .datum(panelSeries[p][s])
      .attr("fill", "none")
      .attr("stroke", st.stroke)
      .attr("stroke-width", st.width)
      .attr("stroke-linejoin", "round")
      .attr("stroke-dasharray", st.dash)
      .attr("d", line);
  });

  // frame
  g.append("rect").attr("x", L.x0).attr("y", L.y0)
    .attr("width", L.x1 - L.x0).attr("height", L.y1 - L.y0)
    .attr("fill", "none").attr("stroke", "#555").attr("stroke-width", 1);

  // y axis
  const yAxis = d3.axisLeft(y)
    .tickValues(yTickExponents.map(e => Math.pow(10, e)))
    .tickSizeInner(-4).tickSizeOuter(0).tickPadding(9);
  const ya = g.append("g").attr("transform", `translate(${L.x0},0)`).call(yAxis);
  ya.select(".domain").remove();
  ya.selectAll(".tick line").attr("stroke", "#555");
  ya.selectAll(".tick text").each(function(d) {
    const t = d3.select(this);
    const e = Math.round(Math.log10(d));
    t.text(null).attr("font-size", 16).attr("font-family", serif).attr("fill", "#000");
    t.append("tspan").text("10");
    t.append("tspan").attr("font-size", 11).attr("dy", "-0.62em").text(String(e));
  });

  // x axis
  const xAxis = d3.axisBottom(x).tickValues(xTickValues)
    .tickSizeInner(-4).tickSizeOuter(0).tickPadding(10).tickFormat(d3.format("d"));
  const xa = g.append("g").attr("transform", `translate(0,${L.y1})`).call(xAxis);
  xa.select(".domain").remove();
  xa.selectAll(".tick line").attr("stroke", "#555");
  xa.selectAll(".tick text").attr("font-size", 16).attr("font-family", serif).attr("fill", "#000");

  // axis titles
  const xt = g.append("text").attr("x", (L.x0 + L.x1) / 2).attr("y", L.y1 + 49)
    .attr("text-anchor", "middle").attr("font-size", 20);
  xt.append("tspan").text("Frequency ");
  xt.append("tspan").attr("font-style", "italic").text("f");
  xt.append("tspan").text("(Hz)");

  const yt = g.append("text")
    .attr("transform", `translate(${L.x0 - 47},${(L.y0 + L.y1) / 2 - 6}) rotate(-90)`)
    .attr("text-anchor", "middle").attr("font-size", 20);
  yt.append("tspan").text("Velocity ");
  yt.append("tspan").attr("font-style", "italic").text("v");
  yt.append("tspan").text("(m/s)");

  // caption
  g.append("text").attr("x", (L.x0 + L.x1) / 2).attr("y", L.y1 + L.capDy)
    .attr("text-anchor", "middle").attr("font-size", 20).text(captions[p]);

  // legend
  seriesNames.forEach((name, s) => {
    const ly = L.legY + s * 24.5;
    const st = styles[s];
    g.append("line").attr("x1", L.legX).attr("x2", L.legX + 27).attr("y1", ly).attr("y2", ly)
      .attr("stroke", st.stroke).attr("stroke-width", st.legendWidth)
      .attr("stroke-dasharray", st.dash);
    g.append("text").attr("x", L.legX + 34).attr("y", ly + 5)
      .attr("font-size", 16.5).text(name);
  });
});
</script>
</body></html>
